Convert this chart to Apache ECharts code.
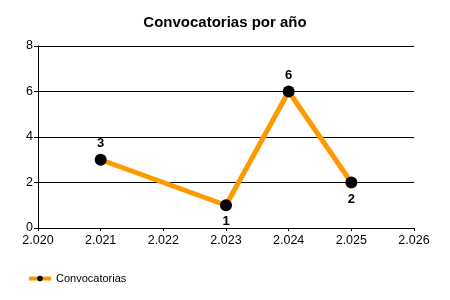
<!DOCTYPE html>
<html><head><meta charset="utf-8">
<script src="https://cdn.jsdelivr.net/npm/echarts@6/dist/echarts.min.js"></script>
<style>html,body{margin:0;padding:0;background:#fff}#c{width:450px;height:300px}</style>
</head><body><div id="c"></div>
<script>
const years = [2021, 2023, 2024, 2025];
const values = [3, 1, 6, 2];
const labelPos = ['top', 'bottom', 'top', 'bottom'];
const seriesName = 'Convocatorias';
const titleText = 'Convocatorias por año';

const chart = echarts.init(document.getElementById('c'));
const font = 'Liberation Sans, Arial, sans-serif';
chart.setOption({
  animation: false,
  backgroundColor: '#fff',
  title: { text: titleText, left: 'center', top: 10,
    textStyle: { fontFamily: font, fontSize: 15, fontWeight: 'bold', color: '#000' } },
  legend: { left: 22, top: 268, itemWidth: 22, itemHeight: 7, itemGap: 5,
    lineStyle: { width: 4 },
    textStyle: { fontFamily: font, fontSize: 11, color: '#000' },
    data: [{ name: seriesName }] },
  grid: { left: 38, right: 36, top: 46, bottom: 72 },
  xAxis: { type: 'value', min: 2020, max: 2026, interval: 1,
    axisLine: { lineStyle: { color: '#000' } },
    axisTick: { show: true, length: 3, lineStyle: { color: '#000' } },
    splitLine: { show: false },
    axisLabel: { fontFamily: font, fontSize: 12.5, color: '#000', margin: 6,
      formatter: v => String(v).replace(/(\d)(\d{3})$/, '$1.$2') } },
  yAxis: { type: 'value', min: 0, max: 8, interval: 2,
    axisLine: { show: true, lineStyle: { color: '#000' } },
    axisTick: { show: true, length: 4, lineStyle: { color: '#000' } },
    splitLine: { show: true, lineStyle: { color: '#000', width: 1 } },
    axisLabel: { fontFamily: font, fontSize: 12.5, color: '#000', margin: 5 } },
  series: [{
    name: seriesName, type: 'line',
    data: years.map((y, i) => ({ value: [y, values[i]], label: { position: labelPos[i] } })),
    symbol: 'circle', symbolSize: 12,
    lineStyle: { color: '#FF9900', width: 5 },
    itemStyle: { color: '#000' },
    label: { show: true, fontFamily: font, fontSize: 13, fontWeight: 'bold', color: '#000', distance: 4 }
  }]
});
</script></body></html>
